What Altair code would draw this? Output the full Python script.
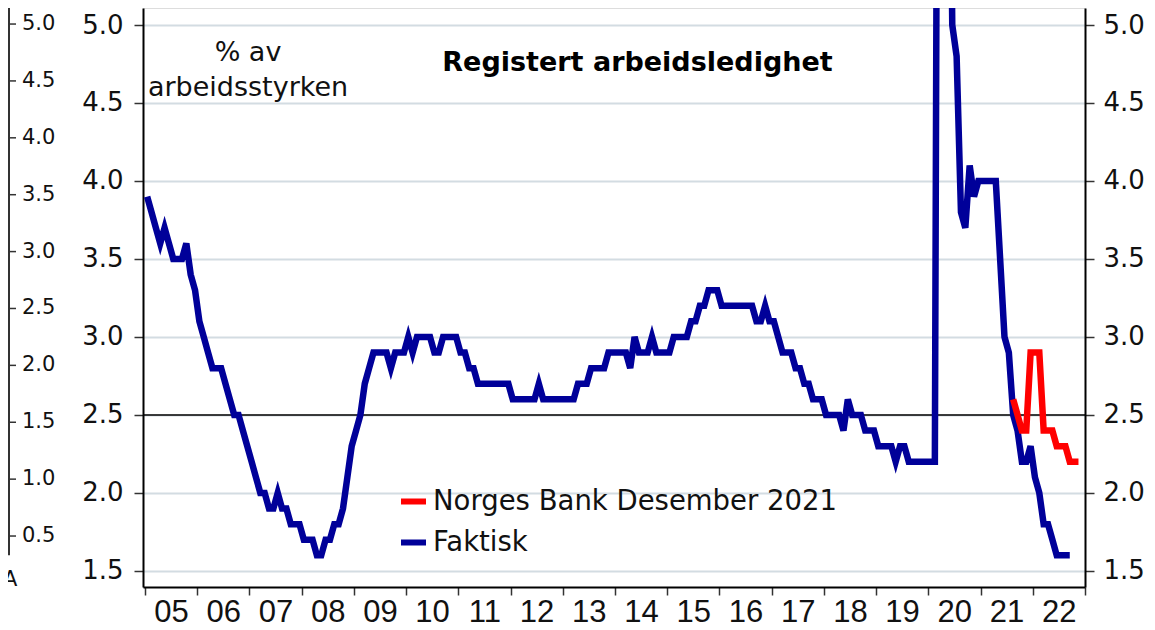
import altair as alt
import pandas as pd

# ---------------- data (monthly, from Jan 2005) ----------------
START_YEAR = 2005
faktisk = [
    3.9, 3.8, 3.7, 3.6, 3.7, 3.6, 3.5, 3.5, 3.5, 3.6, 3.4, 3.3,   # 2005
    3.1, 3.0, 2.9, 2.8, 2.8, 2.8, 2.7, 2.6, 2.5, 2.5, 2.4, 2.3,   # 2006
    2.2, 2.1, 2.0, 2.0, 1.9, 1.9, 2.0, 1.9, 1.9, 1.8, 1.8, 1.8,   # 2007
    1.7, 1.7, 1.7, 1.6, 1.6, 1.7, 1.7, 1.8, 1.8, 1.9, 2.1, 2.3,   # 2008
    2.4, 2.5, 2.7, 2.8, 2.9, 2.9, 2.9, 2.9, 2.8, 2.9, 2.9, 2.9,   # 2009
    3.0, 2.9, 3.0, 3.0, 3.0, 3.0, 2.9, 2.9, 3.0, 3.0, 3.0, 3.0,   # 2010
    2.9, 2.9, 2.8, 2.8, 2.7, 2.7, 2.7, 2.7, 2.7, 2.7, 2.7, 2.7,   # 2011
    2.6, 2.6, 2.6, 2.6, 2.6, 2.6, 2.7, 2.6, 2.6, 2.6, 2.6, 2.6,   # 2012
    2.6, 2.6, 2.6, 2.7, 2.7, 2.7, 2.8, 2.8, 2.8, 2.8, 2.9, 2.9,   # 2013
    2.9, 2.9, 2.9, 2.8, 3.0, 2.9, 2.9, 2.9, 3.0, 2.9, 2.9, 2.9,   # 2014
    2.9, 3.0, 3.0, 3.0, 3.0, 3.1, 3.1, 3.2, 3.2, 3.3, 3.3, 3.3,   # 2015
    3.2, 3.2, 3.2, 3.2, 3.2, 3.2, 3.2, 3.2, 3.1, 3.1, 3.2, 3.1,   # 2016
    3.1, 3.0, 2.9, 2.9, 2.9, 2.8, 2.8, 2.7, 2.7, 2.6, 2.6, 2.6,   # 2017
    2.5, 2.5, 2.5, 2.5, 2.4, 2.6, 2.5, 2.5, 2.5, 2.4, 2.4, 2.4,   # 2018
    2.3, 2.3, 2.3, 2.3, 2.2, 2.3, 2.3, 2.2, 2.2, 2.2, 2.2, 2.2,   # 2019
    2.2, 2.2, 10.4, 10.7, 7.6, 5.0, 4.8, 3.8, 3.7, 4.1, 3.9, 4.0, # 2020
    4.0, 4.0, 4.0, 4.0, 3.5, 3.0, 2.9, 2.5, 2.4, 2.2, 2.2, 2.3,   # 2021
    2.1, 2.0, 1.8, 1.8, 1.7, 1.6, 1.6, 1.6, 1.6,                 # 2022
]
NB_START = 199  # month index of first projection value (Aug 2021)
norges_bank = [2.6, 2.5, 2.4, 2.4, 2.9, 2.9, 2.9, 2.4, 2.4, 2.4,
               2.3, 2.3, 2.3, 2.2, 2.2, 2.2]

SERIES = ["Norges Bank Desember 2021", "Faktisk"]
COLORS = ["#ff0000", "#000099"]
Y_TICKS = [1.5, 2.0, 2.5, 3.0, 3.5, 4.0, 4.5, 5.0]
YEARS = list(range(2005, 2024))
LEFT_PANEL_TICKS = [0.5, 1.0, 1.5, 2.0, 2.5, 3.0, 3.5, 4.0, 4.5, 5.0]
LEFT_PANEL_SPAN = [5.141, 0.33]
REF_LEVEL = 2.5

df_f = pd.DataFrame({
    "t": [START_YEAR + (i + 0.5) / 12 for i in range(len(faktisk))],
    "v": faktisk,
    "series": SERIES[1],
})
df_n = pd.DataFrame({
    "t": [START_YEAR + (NB_START + i + 0.5) / 12 for i in range(len(norges_bank))],
    "v": norges_bank,
    "series": SERIES[0],
})
df_p = pd.DataFrame({
    "tick": LEFT_PANEL_TICKS,
    "lab": [f"{v:.1f}" for v in LEFT_PANEL_TICKS],
})

# ---------------- layout ----------------
W, H = 942, 579
X_DOMAIN = [2004.962, 2023.0]
Y_DOMAIN = [1.397, 5.109]
P_DOMAIN = [0.052, 5.141]
FONT = "DejaVu Sans"

x_scale = alt.Scale(domain=X_DOMAIN, nice=False, zero=False)
y_scale = alt.Scale(domain=Y_DOMAIN, nice=False, zero=False)
p_scale = alt.Scale(domain=P_DOMAIN, nice=False, zero=False)

x_enc = alt.X(
    "t:Q", scale=x_scale,
    axis=alt.Axis(
        values=YEARS, title=None,
        labelExpr="datum.value < 2023 ? substring(toString(datum.value), 2, 4) : ''",
        labelOffset=26, labelFlush=False, labelOverlap=False, labelBound=False,
        tickSize=8, tickWidth=1.5, tickColor="#333333",
        labelPadding=2, labelFontSize=31, labelFont="Liberation Sans",
        labelColor="#111111", grid=False,
        domainColor="#000000", domainWidth=2,
    ),
)

color_enc = alt.Color(
    "series:N",
    scale=alt.Scale(domain=SERIES, range=COLORS),
    legend=alt.Legend(
        title=None, orient="none", legendX=255, legendY=478,
        symbolType="stroke", symbolStrokeWidth=6, symbolSize=625,
        labelFontSize=27.5, labelFont=FONT, labelColor="#111111",
        labelLimit=0, rowPadding=12, labelOffset=4, padding=0,
    ),
)

common_axis = dict(
    values=Y_TICKS, format=".1f", title=None,
    labelFontSize=26, labelFont=FONT, labelColor="#111111",
    tickSize=9, tickWidth=1.5, tickColor="#333333",
    domainColor="#000000", domainWidth=2,
)

ref_rule = alt.Chart(pd.DataFrame({"lvl": [REF_LEVEL]})).mark_rule(
    color="#000000", strokeWidth=1.5
).encode(y=alt.Y("lvl:Q", scale=y_scale, axis=None))

blue = alt.Chart(df_f).mark_line(strokeWidth=6.5, clip=True).encode(
    x=x_enc,
    y=alt.Y("v:Q", scale=y_scale,
            axis=alt.Axis(orient="left", grid=True, gridColor="#d3dce2",
                          gridWidth=2, labelPadding=11, **common_axis)),
    color=color_enc,
)

red = alt.Chart(df_n).mark_line(strokeWidth=6.5, clip=True).encode(
    x=x_enc,
    y=alt.Y("v:Q", scale=y_scale,
            axis=alt.Axis(orient="right", grid=False, labelPadding=9, **common_axis)),
    color=color_enc,
)

# fragment of the neighbouring chart's axis at the far left
p_line = alt.Chart(pd.DataFrame({"top": [LEFT_PANEL_SPAN[0]], "bot": [LEFT_PANEL_SPAN[1]]})).mark_rule(
    color="#333333", strokeWidth=2
).encode(
    x=alt.value(-134),
    y=alt.Y("top:Q", scale=p_scale, axis=None),
    y2="bot:Q",
)
p_ticks = alt.Chart(df_p).mark_rule(color="#333333", strokeWidth=1.5).encode(
    x=alt.value(-134), x2=alt.value(-127),
    y=alt.Y("tick:Q", scale=p_scale, axis=None),
)
p_labels = alt.Chart(df_p).mark_text(
    align="left", baseline="middle", font=FONT, color="#111111", fontSize=21
).encode(
    x=alt.value(-121),
    y=alt.Y("tick:Q", scale=p_scale, axis=None),
    text="lab:N",
)

cut_letter = alt.Chart(pd.DataFrame({"s": ["A"]})).mark_text(
    align="left", baseline="middle", font=FONT, color="#111111", fontSize=21
).encode(x=alt.value(-140), y=alt.value(572), text="s:N")

unit1 = alt.Chart(pd.DataFrame({"s": ["% av"]})).mark_text(
    align="center", baseline="middle", fontSize=27, font=FONT, color="#111111"
).encode(x=alt.value(105), y=alt.value(45), text="s:N")

unit2 = alt.Chart(pd.DataFrame({"s": ["arbeidsstyrken"]})).mark_text(
    align="center", baseline="middle", fontSize=27, font=FONT, color="#111111"
).encode(x=alt.value(105), y=alt.value(80), text="s:N")

title = alt.Chart(pd.DataFrame({"s": ["Registert arbeidsledighet"]})).mark_text(
    align="center", baseline="middle", fontSize=27, font=FONT,
    fontWeight="bold", color="#000000"
).encode(x=alt.value(494.5), y=alt.value(55), text="s:N")

chart = alt.layer(
    ref_rule, blue, red, p_line, p_ticks, p_labels, cut_letter, unit1, unit2, title
).resolve_scale(y="independent").properties(
    width=W, height=H,
    autosize=alt.AutoSizeParams(type="none"),
    padding={"left": 135, "top": 0, "right": 62, "bottom": 42},
).configure_view(stroke=None).configure(background="white")

chart.save("out.html", embed_options={"renderer": "svg", "actions": False})
